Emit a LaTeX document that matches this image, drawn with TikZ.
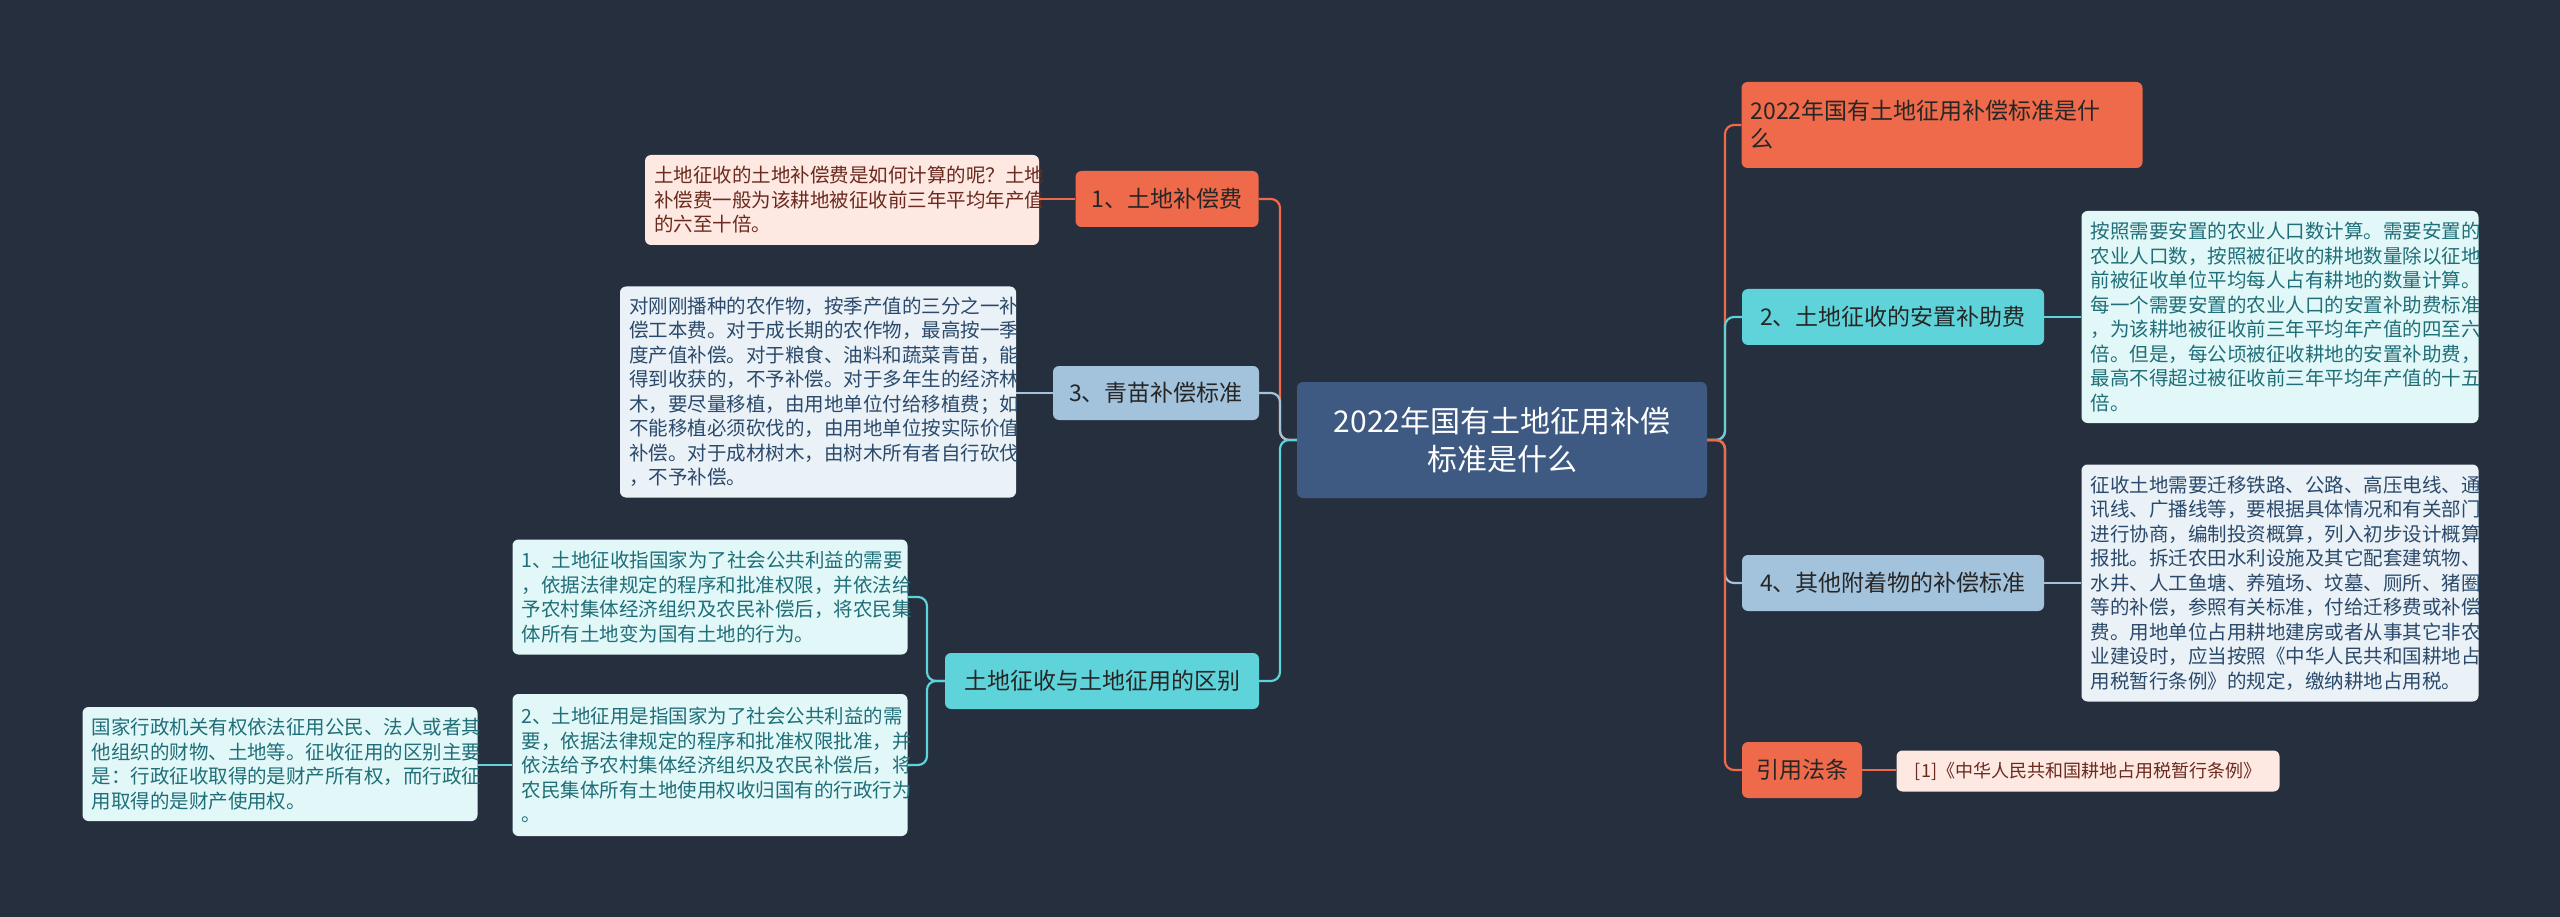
\documentclass[tikz,border=0pt]{standalone}
\usepackage{fontspec}
\setmainfont{Noto Sans CJK SC}
\definecolor{bg}{HTML}{262F3D}
\definecolor{org}{HTML}{EE6A4A}
\definecolor{cyn}{HTML}{5FD3DA}
\definecolor{blg}{HTML}{A3C2DC}
\definecolor{ctr}{HTML}{3E5A82}
\definecolor{fcy}{HTML}{E2F8F8}
\definecolor{tcy}{HTML}{1F6E78}
\definecolor{fbl}{HTML}{EAF1F7}
\definecolor{tbl}{HTML}{2B4A6B}
\definecolor{fpk}{HTML}{FDE8E2}
\definecolor{tpk}{HTML}{6B2A1E}
\tikzset{
  base/.style={rounded corners=6pt, inner xsep=9pt, inner ysep=4pt, align=left},
  br/.style={base, fill=#1, text=black!85, font=\fontsize{23}{28}\selectfont, minimum height=56pt},
  tb/.style n args={3}{base, fill=#1, text=#2, text width=#3, font=\fontsize{19.5}{24.5}\selectfont},
  ln/.style={draw=#1, line width=2.2pt, rounded corners=9pt}
}
\begin{document}
\begin{tikzpicture}[x=1pt,y=-1pt]
\fill[bg] (0,0) rectangle (2560,917);
\useasboundingbox (0,0) rectangle (2560,917);
% center
\node[base, fill=ctr, text=white, align=center, minimum width=410pt, minimum height=116pt, font=\fontsize{30}{38}\selectfont] (c) at (1502,440) {2022年国有土地征用补偿\\标准是什么};
% right branches
\node[br=org, minimum width=401pt, minimum height=86pt, text width=383pt] (r1) at (1942,125) {2022年国有土地征用补偿标准是什\\么};
\node[br=cyn, minimum width=302pt] (r2) at (1893,317) {2、土地征收的安置补助费};
\node[br=blg, minimum width=302pt] (r4) at (1893,583) {4、其他附着物的补偿标准};
\node[br=org, minimum width=120pt] (r5) at (1802,770) {引用法条};
\node[tb={fcy}{tcy}{379pt}, minimum height=212pt] (t2) at (2280,317) {按照需要安置的农业人口数计算。需要安置的\\农业人口数，按照被征收的耕地数量除以征地\\前被征收单位平均每人占有耕地的数量计算。\\每一个需要安置的农业人口的安置补助费标准\\，为该耕地被征收前三年平均年产值的四至六\\倍。但是，每公顷被征收耕地的安置补助费，\\最高不得超过被征收前三年平均年产值的十五\\倍。};
\node[tb={fbl}{tbl}{379pt}, minimum height=237pt] (t4) at (2280,583) {征收土地需要迁移铁路、公路、高压电线、通\\讯线、广播线等，要根据具体情况和有关部门\\进行协商，编制投资概算，列入初步设计概算\\报批。拆迁农田水利设施及其它配套建筑物、\\水井、人工鱼塘、养殖场、坟墓、厕所、猪圈\\等的补偿，参照有关标准，付给迁移费或补偿\\费。用地单位占用耕地建房或者从事其它非农\\业建设时，应当按照《中华人民共和国耕地占\\用税暂行条例》的规定，缴纳耕地占用税。};
\node[base, fill=fpk, text=tpk, minimum width=383pt, minimum height=41pt, font=\fontsize{18}{22}\selectfont] (ref) at (2088,771) {[1]《中华人民共和国耕地占用税暂行条例》};
% left branches
\node[br=org, minimum width=183pt] (l1) at (1167,199) {1、土地补偿费};
\node[br=blg, minimum width=206pt, minimum height=54pt] (l3) at (1156,393) {3、青苗补偿标准};
\node[br=cyn, minimum width=314pt] (l5) at (1102,681) {土地征收与土地征用的区别};
\node[tb={fpk}{tpk}{376pt}, minimum height=90pt] (t1) at (842,200) {土地征收的土地补偿费是如何计算的呢？土地\\补偿费一般为该耕地被征收前三年平均年产值\\的六至十倍。};
\node[tb={fbl}{tbl}{378pt}, minimum height=211pt] (t3) at (818,392) {对刚刚播种的农作物，按季产值的三分之一补\\偿工本费。对于成长期的农作物，最高按一季\\度产值补偿。对于粮食、油料和蔬菜青苗，能\\得到收获的，不予补偿。对于多年生的经济林\\木，要尽量移植，由用地单位付给移植费；如\\不能移植必须砍伐的，由用地单位按实际价值\\补偿。对于成材树木，由树木所有者自行砍伐\\，不予补偿。};
\node[tb={fcy}{tcy}{377pt}, minimum height=115pt] (ta) at (710,597) {1、土地征收指国家为了社会公共利益的需要\\，依据法律规定的程序和批准权限，并依法给\\予农村集体经济组织及农民补偿后，将农民集\\体所有土地变为国有土地的行为。};
\node[tb={fcy}{tcy}{377pt}, minimum height=142pt] (tb) at (710,765) {2、土地征用是指国家为了社会公共利益的需\\要，依据法律规定的程序和批准权限批准，并\\依法给予农村集体经济组织及农民补偿后，将\\农民集体所有土地使用权收归国有的行政行为\\。};
\node[tb={fcy}{tcy}{377pt}, minimum height=114pt] (fl) at (280,764) {国家行政机关有权依法征用公民、法人或者其\\他组织的财物、土地等。征收征用的区别主要\\是：行政征收取得的是财产所有权，而行政征\\用取得的是财产使用权。};
% connectors
\draw[ln=org] (c.east) -- (1725,440) |- (r1.west);
\draw[ln=cyn] (c.east) -- (1725,440) |- (r2.west);
\draw[ln=blg] (c.east) -- (1725,440) |- (r4.west);
\draw[ln=org] (c.east) -- (1725,440) |- (r5.west);
\draw[ln=org] (c.west) -- (1280,440) |- (l1.east);
\draw[ln=blg] (c.west) -- (1280,440) |- (l3.east);
\draw[ln=cyn] (c.west) -- (1280,440) |- (l5.east);
\draw[ln=cyn] (r2.east) -- (t2.west|-r2.east);
\draw[ln=blg] (r4.east) -- (t4.west|-r4.east);
\draw[ln=org] (r5.east) -- (ref.west|-r5.east);
\draw[ln=org] (l1.west) -- (t1.east|-l1.west);
\draw[ln=blg] (l3.west) -- (t3.east|-l3.west);
\draw[ln=cyn] (l5.west) -- (927,681) |- (ta.east);
\draw[ln=cyn] (l5.west) -- (927,681) |- (tb.east);
\draw[ln=cyn] (tb.west) -- (fl.east|-tb.west);
\end{tikzpicture}
\end{document}
